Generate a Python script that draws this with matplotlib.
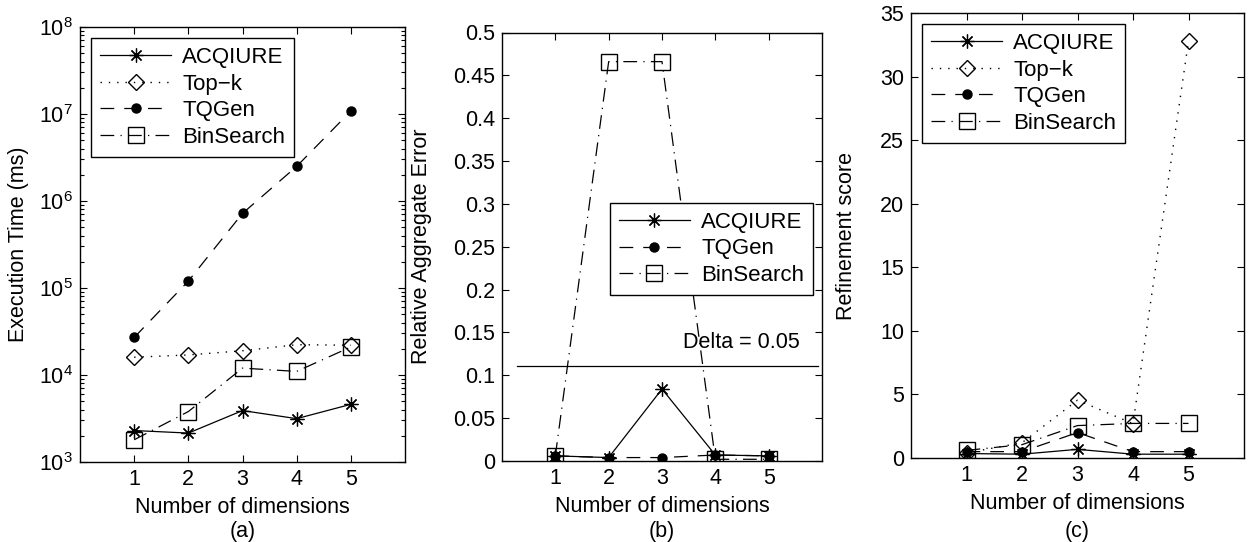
import matplotlib
matplotlib.use("Agg")
import matplotlib.pyplot as plt
from matplotlib.ticker import FixedLocator, FormatStrFormatter, LogLocator, NullFormatter

plt.rcParams['font.family'] = ['Liberation Sans', 'DejaVu Sans']
plt.rcParams['mathtext.fontset'] = 'custom'
plt.rcParams['mathtext.rm'] = 'Liberation Sans'
plt.rcParams['mathtext.it'] = 'Liberation Sans'

# ---- data ----
dims = [1, 2, 3, 4, 5]
xtick_labels = ['1', '2', '3', '4', '5']

time_acqiure = [2300, 2150, 3900, 3150, 4600]
time_topk = [16000, 17000, 19000, 22300, 22000]
time_tqgen = [27000, 120000, 720000, 2500000, 10800000]
time_binsearch = [1800, 3800, 12000, 11000, 21000]

err_acqiure = [0.006, 0.004, 0.084, 0.007, 0.006]
err_tqgen = [0.006, 0.004, 0.004, 0.007, 0.006]
err_binsearch = [0.006, 0.466, 0.466, 0.002, 0.002]
delta_level = 0.111
delta_label = 'Delta = 0.05'

ref_acqiure = [0.35, 0.3, 0.68, 0.3, 0.3]
ref_topk = [0.4, 1.2, 4.55, 2.7, 32.8]
ref_tqgen = [0.5, 0.5, 2.0, 0.5, 0.5]
ref_binsearch = [0.6, 1.05, 2.55, 2.72, 2.72]

FS = 15.5
LFS = 16

styles = {
    'ACQIURE': dict(color='black', lw=0.9, linestyle='-', marker=(8, 2, 0), markersize=10,
                    markeredgewidth=0.9, markerfacecolor='none', markeredgecolor='black'),
    'Top\u2212k': dict(color='black', lw=1.0, linestyle=(0, (1, 5)), marker='D', markersize=8,
                       markeredgewidth=1.0, markerfacecolor='none', markeredgecolor='black'),
    'TQGen': dict(color='black', lw=0.9, linestyle=(0, (11, 8)), marker='o', markersize=6.5,
                  markerfacecolor='black', markeredgecolor='black'),
    'BinSearch': dict(color='black', lw=0.9, linestyle=(0, (11, 5, 1, 5)), marker='s', markersize=12,
                      markeredgewidth=1.0, markerfacecolor='none', markeredgecolor='black'),
}

LEG_KW = dict(fontsize=LFS, handlelength=3.2, handletextpad=0.5, fancybox=False,
              edgecolor='black', framealpha=1, labelspacing=0.25)

fig = plt.figure(figsize=(12.5, 5.42), dpi=100)
ax_a = fig.add_axes([80 / 1250, 1 - 462 / 542, 325 / 1250, 435 / 542])
ax_b = fig.add_axes([502 / 1250, 1 - 461 / 542, 320 / 1250, 428.5 / 542])
ax_c = fig.add_axes([911 / 1250, 1 - 458 / 542, 333 / 1250, 445 / 542])


def style_axes(ax):
    for s in ax.spines.values():
        s.set_linewidth(1.0)
    ax.tick_params(which='both', direction='in', top=True, right=True, labelsize=FS, width=0.8)
    ax.tick_params(which='major', length=5, pad=5)
    ax.tick_params(which='minor', length=3)
    ax.set_xlim(0, 6)
    ax.xaxis.set_major_locator(FixedLocator(dims))
    ax.set_xticklabels(xtick_labels)
    ax.set_xlabel('Number of dimensions', fontsize=FS, labelpad=5)


# ---- (a) ----
ax = ax_a
ax.set_yscale('log')
ax.plot(dims, time_acqiure, label='ACQIURE', **styles['ACQIURE'])
ax.plot(dims, time_topk, label='Top\u2212k', **styles['Top\u2212k'])
ax.plot(dims, time_tqgen, label='TQGen', **styles['TQGen'])
ax.plot(dims, time_binsearch, label='BinSearch', **styles['BinSearch'])
ax.set_ylim(1e3, 1e8)
ax.yaxis.set_major_locator(LogLocator(base=10, numticks=10))
ax.yaxis.set_minor_locator(LogLocator(base=10, subs=range(2, 10), numticks=20))
ax.yaxis.set_minor_formatter(NullFormatter())
style_axes(ax)
ax.set_ylabel('Execution Time (ms)', fontsize=FS)
ax.yaxis.set_label_coords(-0.157, 0.5)
leg = ax.legend(loc='upper left', borderaxespad=0.5, **LEG_KW)
leg.get_frame().set_linewidth(1.0)

# ---- (b) ----
ax = ax_b
ax.plot(dims, err_acqiure, label='ACQIURE', **styles['ACQIURE'])
ax.plot(dims, err_tqgen, label='TQGen', **styles['TQGen'])
ax.plot(dims, err_binsearch, label='BinSearch', **styles['BinSearch'])
ax.plot([0.28, 5.93], [delta_level, delta_level], color='black', lw=0.9)
ax.text(3.4, 0.1385, delta_label, fontsize=FS, va='center', ha='left')
ax.set_ylim(0, 0.5)
ax.yaxis.set_major_locator(FixedLocator([0, 0.05, 0.1, 0.15, 0.2, 0.25, 0.3, 0.35, 0.4, 0.45, 0.5]))
ax.yaxis.set_major_formatter(FormatStrFormatter('%g'))
style_axes(ax)
ax.set_ylabel('Relative Aggregate Error', fontsize=FS)
ax.yaxis.set_label_coords(-0.219, 0.5)
leg = ax.legend(loc='upper right', bbox_to_anchor=(0.972, 0.602), borderaxespad=0.0, **LEG_KW)
leg.get_frame().set_linewidth(1.0)

# ---- (c) ----
ax = ax_c
ax.plot(dims, ref_acqiure, label='ACQIURE', **styles['ACQIURE'])
ax.plot(dims, ref_topk, label='Top\u2212k', **styles['Top\u2212k'])
ax.plot(dims, ref_tqgen, label='TQGen', **styles['TQGen'])
ax.plot(dims, ref_binsearch, label='BinSearch', **styles['BinSearch'])
ax.set_ylim(0, 35)
ax.yaxis.set_major_locator(FixedLocator([0, 5, 10, 15, 20, 25, 30, 35]))
style_axes(ax)
ax.set_ylabel('Refinement score', fontsize=FS)
ax.yaxis.set_label_coords(-0.162, 0.5)
leg = ax.legend(loc='upper left', borderaxespad=0.5, **LEG_KW)
leg.get_frame().set_linewidth(1.0)

# captions
for ax, cap in [(ax_a, '(a)'), (ax_b, '(b)'), (ax_c, '(c)')]:
    pos = ax.get_position()
    fig.text((pos.x0 + pos.x1) / 2, 1 - 531 / 542, cap, fontsize=FS, ha='center', va='center')

fig.savefig('out.png', dpi=100)
